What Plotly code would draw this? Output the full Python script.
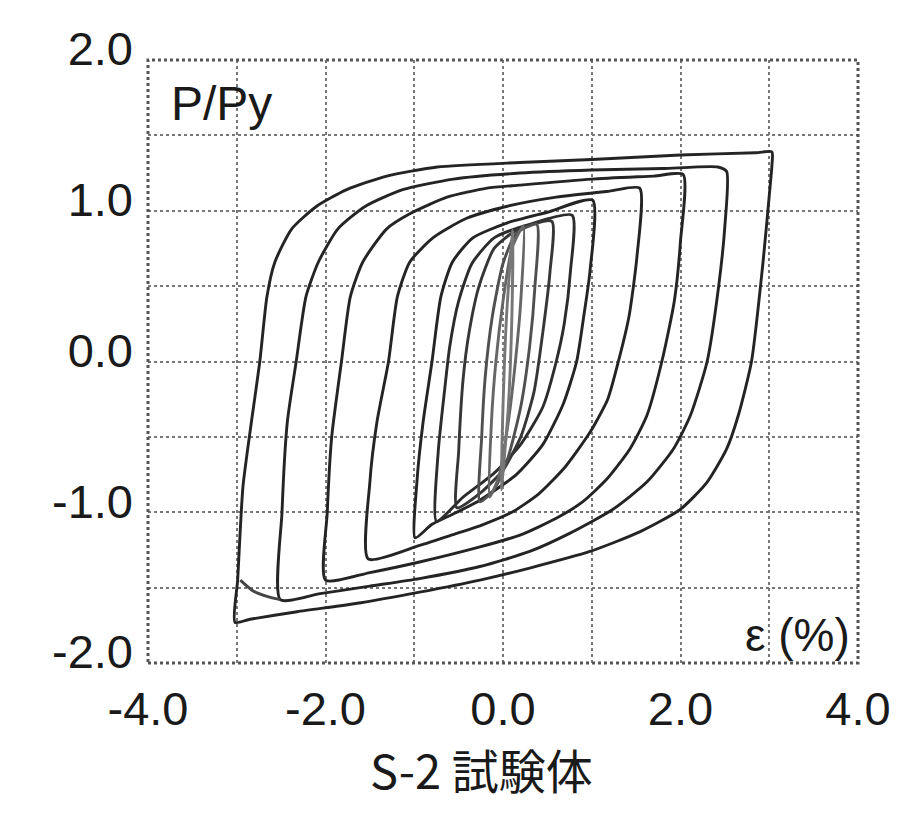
import plotly.graph_objects as go

# ---- axis ticks ----
x_tickvals = [-4, -3, -2, -1, 0, 1, 2, 3, 4]
x_ticktext = ["-4.0", "", "-2.0", "", "0.0", "", "2.0", "", "4.0"]
y_tickvals = [-2, -1.5, -1, -0.5, 0, 0.5, 1, 1.5, 2]
y_ticktext = ["-2.0", "", "-1.0", "", "0.0", "", "1.0", "", "2.0"]

# ---- hysteresis loops (strain %, P/Py) ----
L30_x = [-3.02, -2.99, -2.93, -2.83, -2.74, -2.66, -2.57, -2.38, -2.10, -1.76, -1.31, -0.74, 0.19, 1.0, 2.0, 2.85, 3.03,
         3.03, 3.0, 2.93, 2.80, 2.65, 2.52, 2.30, 2.0, 1.54, 0.98, 0.30, -0.26, -0.94, -1.6, -2.32, -2.85, -3.02]
L30_y = [-1.73, -1.45, -0.83, -0.38, 0.0, 0.43, 0.66, 0.88, 1.03, 1.14, 1.23, 1.29, 1.32, 1.34, 1.37, 1.385, 1.39,
         1.3, 1.1, 0.66, 0.0, -0.36, -0.58, -0.80, -0.98, -1.13, -1.26, -1.37, -1.45, -1.53, -1.60, -1.66, -1.71, -1.73]

L25_x = [-2.51, -2.49, -2.43, -2.33, -2.22, -2.08, -1.86, -1.55, -1.13, -0.56, 0.19, 1.0, 1.8, 2.42, 2.52,
         2.50, 2.43, 2.30, 2.11, 1.92, 1.62, 1.24, 0.75, 0.3, -0.26, -0.94, -1.5, -2.06, -2.51]
L25_y = [-1.58, -1.0, -0.4, 0.0, 0.43, 0.66, 0.88, 1.03, 1.14, 1.21, 1.25, 1.27, 1.28, 1.29, 1.26,
         0.9, 0.5, 0.0, -0.36, -0.58, -0.80, -0.98, -1.14, -1.26, -1.36, -1.44, -1.49, -1.54, -1.58]

L20_x = [-2.0, -1.98, -1.93, -1.82, -1.72, -1.58, -1.31, -1.05, -0.63, -0.18, 0.19, 1.0, 1.7, 2.03,
         2.0, 1.93, 1.79, 1.62, 1.43, 1.17, 0.9, 0.6, 0.2, -0.26, -0.94, -1.5, -2.0]
L20_y = [-1.45, -1.0, -0.5, 0.0, 0.43, 0.66, 0.88, 0.98, 1.09, 1.15, 1.17, 1.21, 1.23, 1.24,
         0.8, 0.4, 0.0, -0.36, -0.58, -0.78, -0.93, -1.04, -1.15, -1.23, -1.33, -1.40, -1.45]

L15_x = [-1.52, -1.50, -1.42, -1.29, -1.19, -1.05, -0.79, -0.41, 0.05, 0.6, 1.2, 1.54,
         1.51, 1.42, 1.30, 1.18, 0.98, 0.7, 0.4, 0.1, -0.26, -0.52, -0.94, -1.52]
L15_y = [-1.31, -0.8, -0.4, 0.0, 0.43, 0.66, 0.82, 0.95, 1.03, 1.09, 1.13, 1.15,
         0.7, 0.3, 0.0, -0.25, -0.47, -0.70, -0.88, -1.0, -1.09, -1.14, -1.22, -1.31]

L10_x = [-0.99, -0.97, -0.90, -0.80, -0.70, -0.57, -0.34, 0.05, 0.5, 1.01,
         0.98, 0.91, 0.83, 0.68, 0.45, 0.15, -0.26, -0.52, -0.8, -0.99]
L10_y = [-1.17, -0.8, -0.4, 0.0, 0.43, 0.66, 0.82, 0.92, 0.99, 1.07,
         0.6, 0.3, 0.0, -0.28, -0.55, -0.75, -0.92, -1.0, -1.08, -1.17]

L075_x = [-0.75, -0.73, -0.66, -0.6, -0.5, -0.35, -0.1, 0.3, 0.78,
          0.76, 0.69, 0.6, 0.45, 0.2, -0.1, -0.45, -0.75]
L075_y = [-1.06, -0.6, -0.2, 0.1, 0.4, 0.65, 0.82, 0.91, 0.97,
          0.6, 0.25, 0.0, -0.3, -0.55, -0.74, -0.9, -1.06]

L050_x = [-0.52, -0.50, -0.45, -0.38, -0.27, -0.1, 0.15, 0.55,
          0.53, 0.45, 0.35, 0.2, 0.0, -0.25, -0.52]
L050_y = [-0.97, -0.6, -0.12, 0.2, 0.5, 0.75, 0.87, 0.93,
          0.6, 0.2, -0.2, -0.5, -0.72, -0.87, -0.97]

L030_x = [-0.26, -0.24, -0.2, -0.12, 0.0, 0.15, 0.38,
          0.36, 0.3, 0.2, 0.05, -0.1, -0.26]
L030_y = [-0.93, -0.5, -0.1, 0.3, 0.65, 0.85, 0.91,
          0.5, 0.1, -0.3, -0.65, -0.85, -0.93]

L020_x = [-0.15, -0.13, -0.08, 0.0, 0.1, 0.23,
          0.2, 0.14, 0.06, -0.04, -0.15]
L020_y = [-0.9, -0.4, 0.0, 0.4, 0.75, 0.9,
          0.4, 0.0, -0.4, -0.75, -0.9]

L010_x = [-0.02, 0.0, 0.04, 0.11, 0.1, 0.06, -0.02]
L010_y = [-0.85, -0.3, 0.3, 0.87, 0.3, -0.3, -0.85]

tail_x = [-2.96, -2.82, -2.65, -2.51]
tail_y = [-1.45, -1.52, -1.56, -1.58]

loops = [
    (L30_x, L30_y, "#242424"),
    (L25_x, L25_y, "#242424"),
    (L20_x, L20_y, "#242424"),
    (L15_x, L15_y, "#242424"),
    (L10_x, L10_y, "#242424"),
    (L075_x, L075_y, "#2c2c2c"),
    (L050_x, L050_y, "#363636"),
    (L030_x, L030_y, "#505050"),
    (L020_x, L020_y, "#666666"),
    (L010_x, L010_y, "#777777"),
    (tail_x, tail_y, "#444444"),
]

fig = go.Figure()
for lx, ly, col in loops:
    fig.add_trace(go.Scatter(
        x=lx, y=ly, mode="lines",
        line=dict(color=col, width=2.9, shape="spline", smoothing=0.6),
        showlegend=False, hoverinfo="skip"))

tick_font = dict(family="Liberation Sans, Arial, sans-serif", size=47, color="#1a1a1a")

fig.update_xaxes(
    range=[-4, 4], tickmode="array", tickvals=x_tickvals, ticktext=x_ticktext,
    showgrid=True, gridcolor="#777777", gridwidth=1.5, griddash="dot",
    zeroline=False, showline=False, ticks="", tickfont=tick_font,
    ticklabelstandoff=14, automargin=False,
)
fig.update_yaxes(
    range=[-2, 2], tickmode="array", tickvals=y_tickvals, ticktext=y_ticktext,
    showgrid=True, gridcolor="#777777", gridwidth=1.5, griddash="dot",
    zeroline=False, showline=False, ticks="", tickfont=tick_font,
    ticklabelstandoff=14, ticklabelshift=-11, automargin=False,
)

fig.add_shape(type="rect", xref="paper", yref="paper", x0=0, y0=0, x1=1, y1=1,
              line=dict(color="#555555", width=3, dash="dot"), layer="above")

fig.add_annotation(text="P/Py", xref="paper", yref="paper", x=0.03, y=0.975,
                   xanchor="left", yanchor="top", showarrow=False,
                   font=dict(family="Liberation Sans, sans-serif", size=48, color="#1a1a1a"))
fig.add_annotation(text="ε (%)", xref="paper", yref="paper", x=0.992, y=0.0,
                   xanchor="right", yanchor="bottom", showarrow=False,
                   font=dict(family="Liberation Sans, sans-serif", size=46, color="#1a1a1a"))
fig.add_annotation(text="S-2 試験体", xref="paper", yref="paper", x=0.47, y=-0.235,
                   xanchor="center", yanchor="bottom", showarrow=False,
                   font=dict(family="Noto Sans CJK JP, sans-serif", size=47, color="#1a1a1a"))

# the page adds an 8 px body margin, so the figure is sized to fit inside 899x816
fig.update_layout(
    width=883, height=800,
    margin=dict(l=140, r=33, t=52, b=145),
    paper_bgcolor="white", plot_bgcolor="white",
)

fig.write_html("out.html")
